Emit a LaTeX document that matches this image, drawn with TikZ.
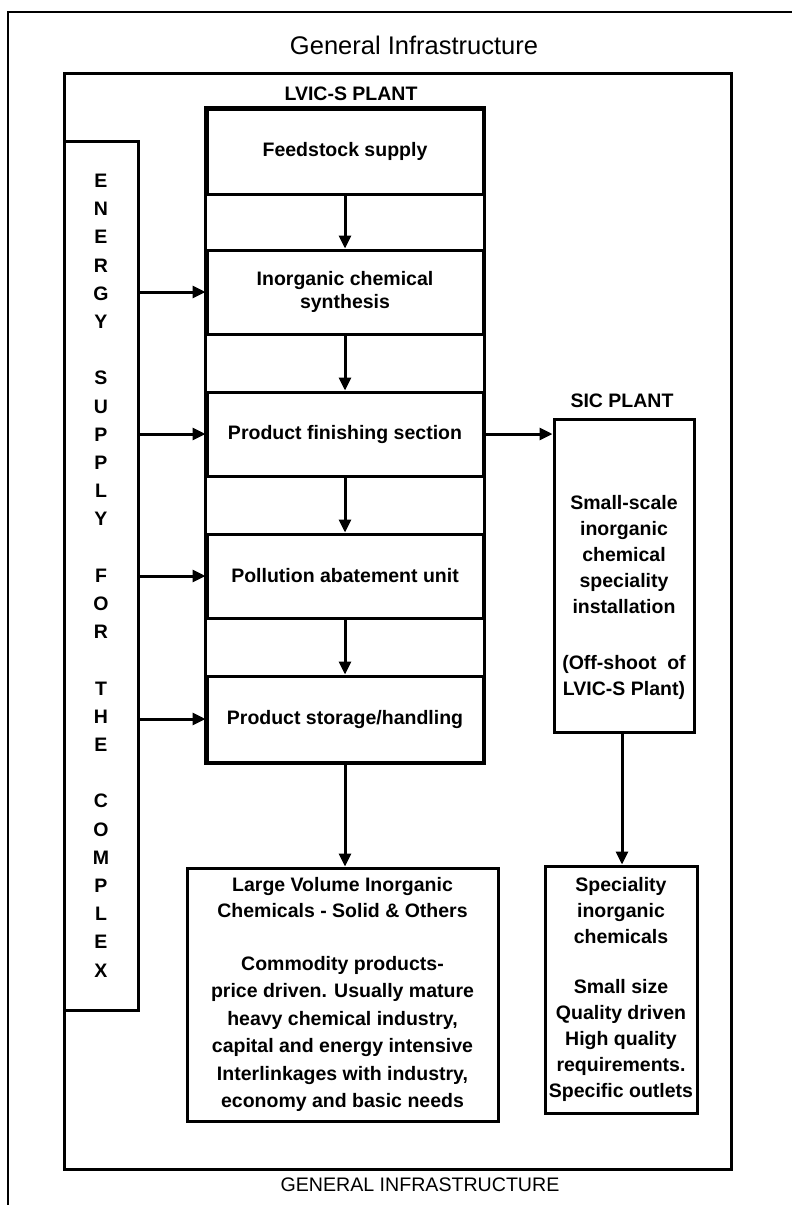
\documentclass[tikz,border=0pt]{standalone}
\usepackage{fontspec}
\setmainfont{Liberation Sans}
\usetikzlibrary{arrows.meta}
\begin{document}
\begin{tikzpicture}[x=1pt,y=-1pt,
  frame/.style={line width=3pt},
  box/.style={draw, line width=3pt, inner sep=0pt, align=center,
    font=\bfseries\fontsize{19.5}{23}\selectfont},
  lbl/.style={font=\bfseries\fontsize{19.5}{23}\selectfont, inner sep=0pt},
  ttl/.style={font=\fontsize{25.5}{28}\selectfont, inner sep=0pt},
  arr/.style={line width=3pt, -{Triangle[length=13pt,width=12pt]}}]
\useasboundingbox (0,0) rectangle (792,1205);
\fill[white] (0,0) rectangle (792,1205);
% outer frame (open at right/bottom)
\draw[line width=2.2pt] (8,1205) -- (8,12) -- (792,12);
\node[ttl] (gi) at (414,45) {General Infrastructure};
% inner frame
\draw[frame] (64,73) rectangle (731,1169);
\node[ttl, font=\fontsize{19.6}{22}\selectfont] (GI) at (420,1185) {GENERAL INFRASTRUCTURE};
\node[lbl] (lvic) at (351,94) {LVIC-S PLANT};
% LVIC column boxes
\node[box, minimum width=276pt, minimum height=85pt] (feed) at (345,151.5) {Feedstock supply};
\node[box, minimum width=276pt, minimum height=84pt] (synth) at (345,292) {Inorganic chemical\\synthesis};
\node[box, minimum width=276pt, minimum height=84pt] (fin) at (345,434) {Product finishing section};
\node[box, minimum width=276pt, minimum height=84pt] (poll) at (345,576) {Pollution abatement unit};
\node[box, minimum width=276pt, minimum height=86pt] (store) at (345,719) {Product storage/handling};
\draw[line width=3pt] (feed.north west) rectangle (store.south east);
\draw[arr] (feed.south) -- (synth.north);
\draw[arr] (synth.south) -- (fin.north);
\draw[arr] (fin.south) -- (poll.north);
\draw[arr] (poll.south) -- (store.north);
% energy supply
\node[box, minimum width=74pt, minimum height=869pt,
  font=\bfseries\fontsize{19.5}{28.2}\selectfont] (energy) at (101,575.5)
  {E\\N\\E\\R\\G\\Y\\\mbox{}\\S\\U\\P\\P\\L\\Y\\\mbox{}\\F\\O\\R\\\mbox{}\\T\\H\\E\\\mbox{}\\C\\O\\M\\P\\L\\E\\X};
\draw[arr] (energy.east |- synth.west) -- (synth.west);
\draw[arr] (energy.east |- fin.west) -- (fin.west);
\draw[arr] (energy.east |- poll.west) -- (poll.west);
\draw[arr] (energy.east |- store.west) -- (store.west);
% SIC plant
\node[lbl] (siclbl) at (622,401) {SIC PLANT};
\node[box, minimum width=140pt, minimum height=313pt] (sic) at (624,575.5) {};
\node[lbl, align=center, font=\bfseries\fontsize{19.5}{26}\selectfont] (sictext) at (624,597)
  {Small-scale\\inorganic\\chemical\\speciality\\installation\\[30pt](Off-shoot\ \ of\\LVIC-S Plant)};
\draw[arr] (fin.east) -- (sic.west |- fin.east);
% outputs
\node[box, minimum width=311pt, minimum height=253pt,
  font=\bfseries\fontsize{19.5}{27.5}\selectfont] (large) at (342.5,994.5)
  {Large Volume Inorganic\\[-1.5pt]Chemicals - Solid \& Others\\[25pt]Commodity products-\\price driven. Usually mature\\heavy chemical industry,\\capital and energy intensive\\Interlinkages with industry,\\economy and basic needs};
\draw[arr] (store.south) -- (large.north -| store.south);
\node[box, minimum width=152pt, minimum height=247pt,
  font=\bfseries\fontsize{19.5}{26}\selectfont] (spec) at (621,989.5)
  {Speciality\\inorganic\\chemicals\\[24pt]Small size\\Quality driven\\High quality\\requirements.\\Specific outlets};
\draw[arr] (sic.south -| 622,0) -- (spec.north -| 622,0);
\end{tikzpicture}
\end{document}
